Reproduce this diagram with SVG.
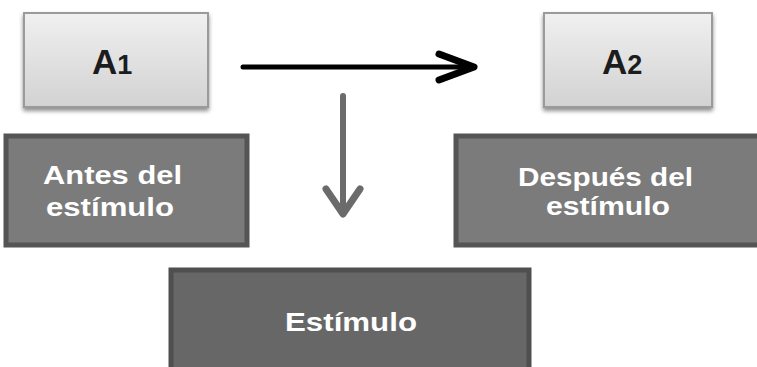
<svg xmlns="http://www.w3.org/2000/svg" width="757" height="367" viewBox="0 0 757 367">
<defs>
<linearGradient id="lg" x1="0" y1="0" x2="0" y2="1">
<stop offset="0" stop-color="#f0f0f0"/>
<stop offset="1" stop-color="#d2d2d2"/>
</linearGradient>
<filter id="sh" x="-10%" y="-10%" width="120%" height="130%">
<feGaussianBlur in="SourceAlpha" stdDeviation="2"/>
<feOffset dx="0" dy="3"/>
<feComponentTransfer><feFuncA type="linear" slope="0.45"/></feComponentTransfer>
<feMerge><feMergeNode/><feMergeNode in="SourceGraphic"/></feMerge>
</filter>
</defs>
<style>
.light{fill:url(#lg);stroke:#9a9a9a;stroke-width:2}
.dark{fill:#7b7b7b;stroke:#555;stroke-width:5}
.darker{fill:#676767;stroke:#4f4f4f;stroke-width:5}
.lbl{font-family:"Liberation Sans",Arial,sans-serif;font-weight:bold;fill:#1c1c1c;font-size:35px}
.wt{font-family:"Liberation Sans",Arial,sans-serif;font-weight:bold;fill:#ffffff;font-size:26px}
</style>
<g id="a1">
<rect class="light" x="24" y="13" width="184" height="94" filter="url(#sh)"/>
<text class="lbl" x="92" y="74">A<tspan font-size="27">1</tspan></text>
</g>
<g id="a2">
<rect class="light" x="544" y="13" width="168" height="94" filter="url(#sh)"/>
<text class="lbl" x="602" y="74">A<tspan font-size="27">2</tspan></text>
</g>
<g id="antes">
<rect class="dark" x="6" y="136" width="241" height="109"/>
<text class="wt" x="43" y="184" textLength="139" lengthAdjust="spacingAndGlyphs">Antes del</text>
<text class="wt" x="46" y="216" textLength="128" lengthAdjust="spacingAndGlyphs">estímulo</text>
</g>
<g id="despues">
<rect class="dark" x="456" y="136" width="310" height="109"/>
<text class="wt" x="518" y="186" textLength="175" lengthAdjust="spacingAndGlyphs">Después del</text>
<text class="wt" x="546" y="215" textLength="124" lengthAdjust="spacingAndGlyphs">estímulo</text>
</g>
<g id="estimulo">
<rect class="darker" x="171" y="270" width="358" height="110"/>
<text class="wt" x="285" y="331" textLength="132" lengthAdjust="spacingAndGlyphs">Estímulo</text>
</g>
<g id="connectors" fill="none" stroke-linecap="round" stroke-linejoin="round">
<path d="M243 67 H472" stroke="#000" stroke-width="5"/>
<path d="M439 54 L474 67 L439 80" stroke="#000" stroke-width="7"/>
<path d="M343 96 V213" stroke="#6b6b6b" stroke-width="6"/>
<path d="M326 189 L343 214 L360 189" stroke="#6b6b6b" stroke-width="7"/>
</g>
</svg>
